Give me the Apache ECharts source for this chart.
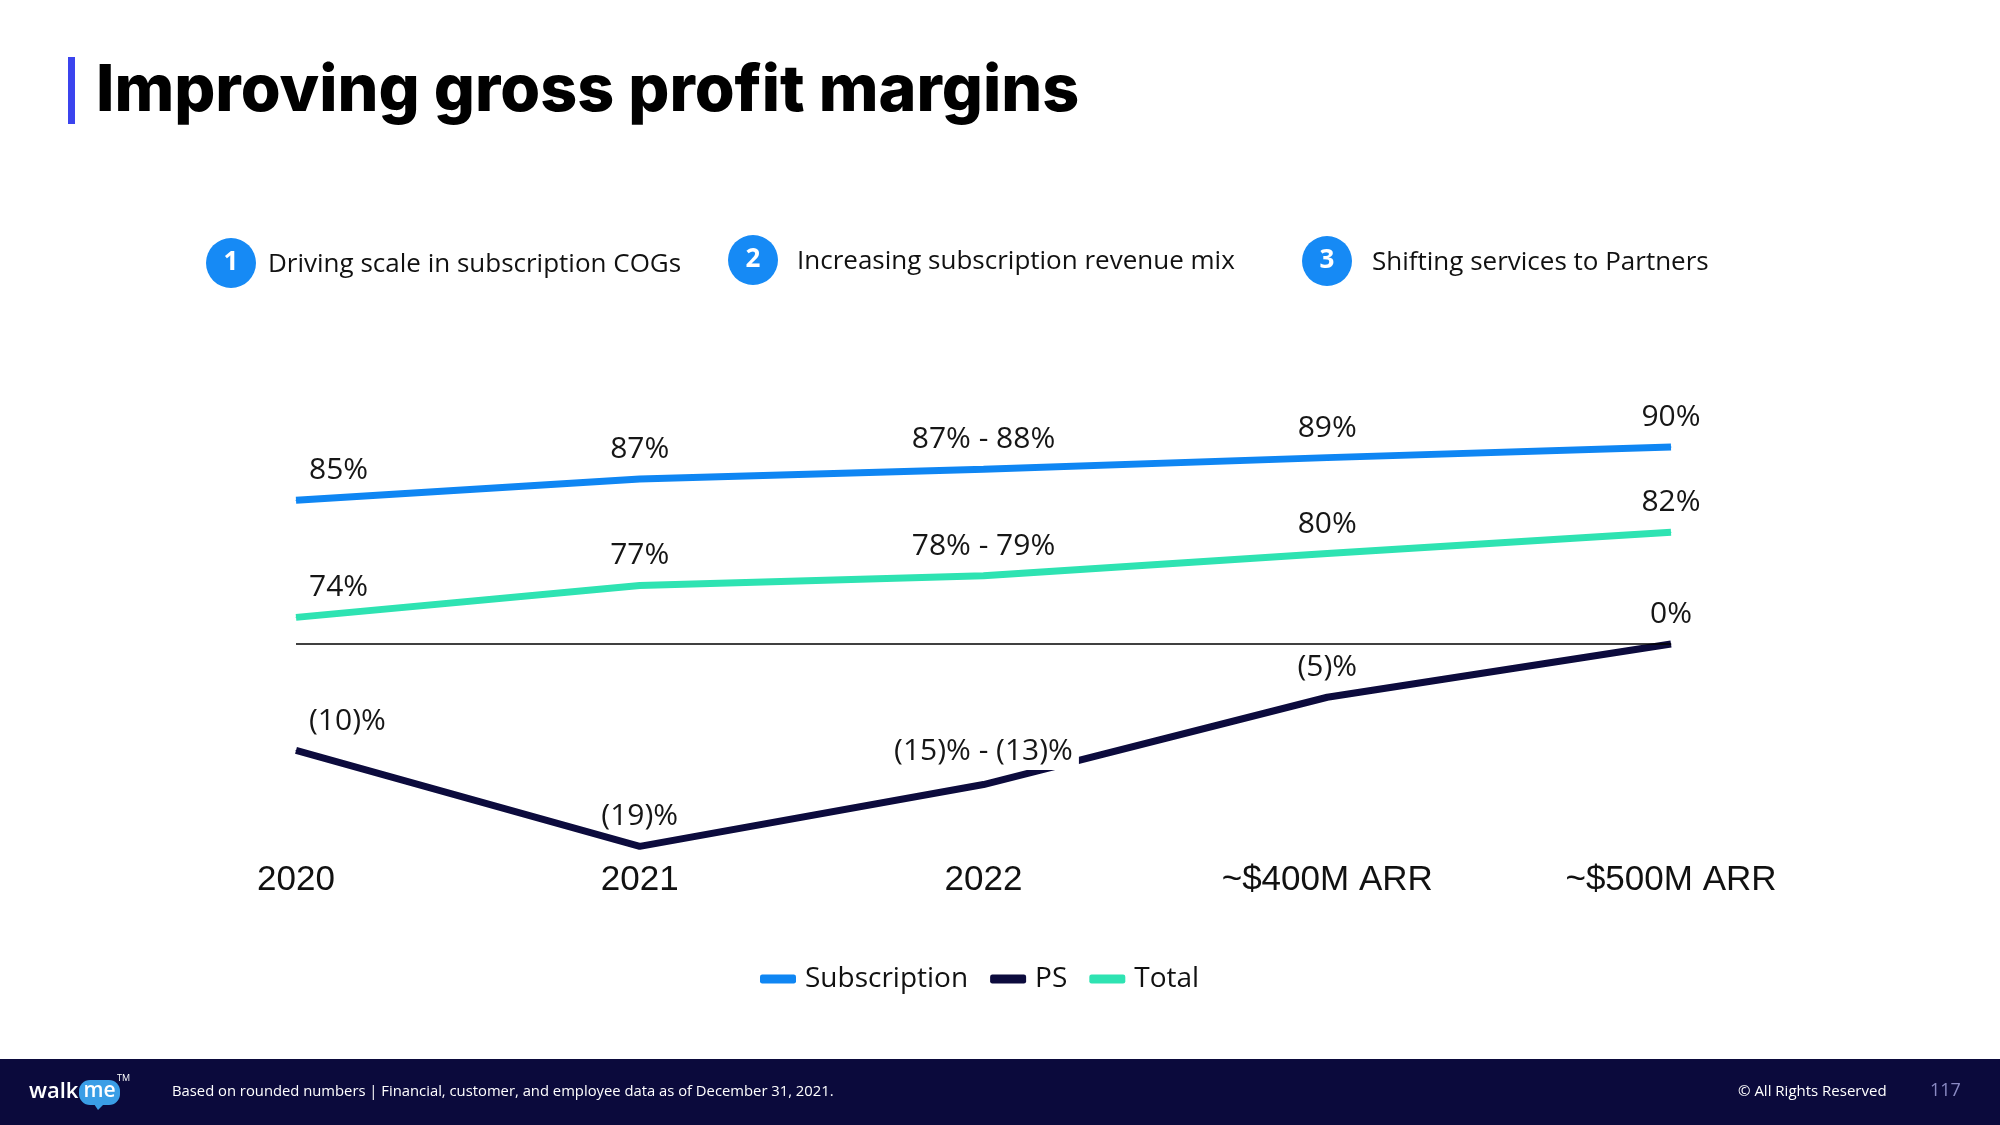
<!DOCTYPE html>
<html>
<head>
<meta charset="utf-8">
<script src="https://cdn.jsdelivr.net/npm/echarts@6/dist/echarts.min.js"></script>
<style>
html,body{margin:0;padding:0;background:#fff;}
#chart{width:2000px;height:1125px;}
</style>
</head>
<body>
<div id="chart"></div>
<script>
const categories = ['2020', '2021', '2022', '~$400M ARR', '~$500M ARR'];
const seriesNames = ['Subscription', 'PS', 'Total'];
const subscription = [85, 87, 87.9, 89, 90];
const ps = [-10, -19, -13.2, -5, 0];
const total = [74, 77, 77.9, 80, 82];
const subscriptionLabels = ['85%', '87%', '87% - 88%', '89%', '90%'];
const psLabels = ['(10)%', '(19)%', '(15)% - (13)%', '(5)%', '0%'];
const totalLabels = ['74%', '77%', '78% - 79%', '80%', '82%'];
const drivers = ['Driving scale in subscription COGs', 'Increasing subscription revenue mix', 'Shifting services to Partners'];
const titleText = 'Improving gross profit margins';
const footnote = 'Based on rounded numbers | Financial, customer, and employee data as of December 31, 2021.';
const copyright = '\u00A9 All Rights Reserved';
const pageNo = '117';

const C_SUB = '#0f86f3';
const C_PS = '#0c0b3d';
const C_TOT = '#2ee3b2';
const LABEL_FONT = '"Open Sans", sans-serif';

function buildData(vals, extra) {
  return vals.map((v, i) => {
    const d = { value: v };
    if (i === 0) d.label = { align: 'left', padding: [0, 0, 0, 13] };
    if (extra && extra[i]) d.label = Object.assign(d.label || {}, extra[i]);
    return d;
  });
}
function labelCfg(labels) {
  return {
    show: true, position: 'top', distance: 14,
    fontFamily: LABEL_FONT, fontSize: 30, color: '#161616',
    formatter: p => labels[p.dataIndex]
  };
}

const chart = echarts.init(document.getElementById('chart'));
const bulletX = [231, 753, 1327];
const bulletY = [263, 260, 261];
const bulletTextX = [268, 797, 1372];
const graphics = [
  { type: 'rect', shape: { x: 68, y: 57, width: 7, height: 67 }, style: { fill: '#3b44ee' } },
  { type: 'text', style: { x: 96, y: 91.5, text: titleText, font: '800 64.5px Inter, sans-serif', fill: '#000', textVerticalAlign: 'middle' } },
  { type: 'rect', shape: { x: 0, y: 1059, width: 2000, height: 66 }, style: { fill: '#0b0a3c' } },
  { type: 'text', style: { x: 172, y: 1092, text: footnote, font: '14.8px "Open Sans", sans-serif', fill: '#ffffff', textVerticalAlign: 'middle' } },
  { type: 'text', style: { x: 1738, y: 1092, text: copyright, font: '15px "Open Sans", sans-serif', fill: '#ffffff', textVerticalAlign: 'middle' } },
  { type: 'text', style: { x: 1930, y: 1091, text: pageNo, font: '18px "Open Sans", sans-serif', fill: '#8a8ac4', textVerticalAlign: 'middle' } },
  // logo
  { type: 'text', style: { x: 29, y: 1092, text: 'walk', font: '600 22px "Open Sans", sans-serif', fill: '#ffffff', textVerticalAlign: 'middle' } },
  { type: 'rect', shape: { x: 79, y: 1080, width: 41, height: 25, r: 11 }, style: { fill: '#3a9ee6' } },
  { type: 'polygon', shape: { points: [[94, 1104], [104, 1104], [98, 1110]] }, style: { fill: '#3a9ee6' } },
  { type: 'text', style: { x: 99.5, y: 1091, text: 'me', font: '600 21px "Open Sans", sans-serif', fill: '#ffffff', textAlign: 'center', textVerticalAlign: 'middle' } },
  { type: 'text', style: { x: 117, y: 1078, text: 'TM', font: '9px "Open Sans", sans-serif', fill: '#ffffff', textVerticalAlign: 'middle' } }
];
drivers.forEach((t, i) => {
  graphics.push({ type: 'circle', shape: { cx: bulletX[i], cy: bulletY[i], r: 25 }, style: { fill: '#168af5' } });
  graphics.push({ type: 'text', style: { x: bulletX[i], y: bulletY[i], text: String(i + 1), font: 'bold 26px "Open Sans", sans-serif', fill: '#fff', textAlign: 'center', textVerticalAlign: 'middle' } });
  graphics.push({ type: 'text', style: { x: bulletTextX[i], y: bulletY[i] + 2, text: t, font: '26px "Open Sans", sans-serif', fill: '#111', textVerticalAlign: 'middle' } });
});

function lineSeries(name, axis, vals, labels, color, extra) {
  return {
    name: name, type: 'line', yAxisIndex: axis, data: buildData(vals, extra),
    lineStyle: { color: color, width: 7 }, itemStyle: { color: color },
    symbol: 'circle', symbolSize: 1, showSymbol: true,
    label: labelCfg(labels), labelLayout: { hideOverlap: false }, z: 3
  };
}

const psSeries = lineSeries('PS', 1, ps, psLabels, C_PS, { 2: { backgroundColor: '#ffffff', padding: [2, 6, 4, 6] } });
psSeries.markLine = {
  silent: true, symbol: 'none', label: { show: false },
  lineStyle: { color: '#000', width: 1.5, type: 'solid' },
  data: [{ yAxis: 0 }]
};

chart.setOption({
  animation: false,
  backgroundColor: '#ffffff',
  graphic: graphics,
  legend: {
    left: 755, top: 960,
    itemWidth: 36, itemHeight: 9, itemGap: 22, icon: 'roundRect',
    data: seriesNames,
    textStyle: { fontFamily: LABEL_FONT, fontSize: 28, color: '#111', padding: [0, 0, 0, 4] }
  },
  grid: { left: 296, right: 329, top: 431, bottom: 262.7 },
  xAxis: {
    type: 'category', data: categories, boundaryGap: false,
    axisLine: { show: false }, axisTick: { show: false }, splitLine: { show: false },
    axisLabel: { margin: 1, fontFamily: '"Liberation Sans", Arial, sans-serif', fontSize: 35, color: '#111' }
  },
  yAxis: [
    { type: 'value', min: 51, max: 91.5, show: false, splitLine: { show: false } },
    { type: 'value', min: -20.5, max: 20, show: false, splitLine: { show: false } }
  ],
  series: [
    lineSeries('Subscription', 0, subscription, subscriptionLabels, C_SUB),
    psSeries,
    lineSeries('Total', 0, total, totalLabels, C_TOT)
  ]
});
</script>
</body>
</html>
